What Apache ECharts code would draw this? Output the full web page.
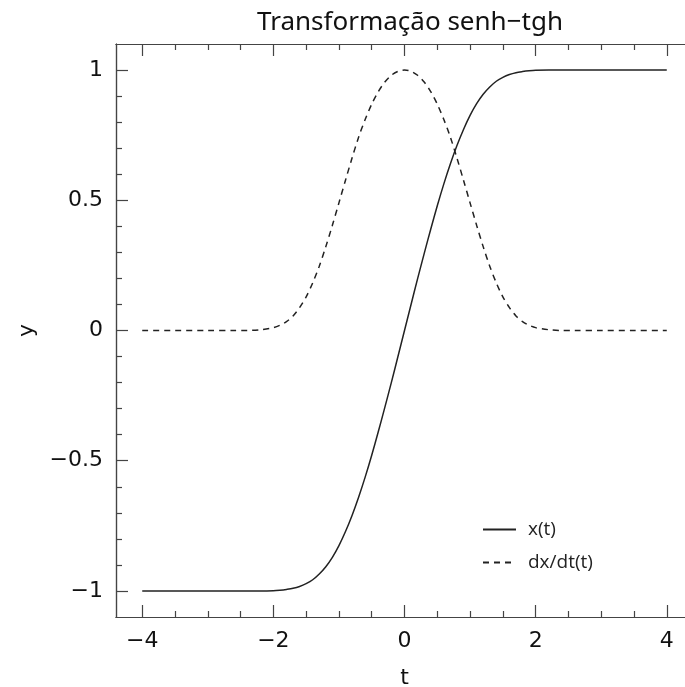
<!DOCTYPE html>
<html>
<head>
<meta charset="utf-8">
<script src="https://cdn.jsdelivr.net/npm/echarts@6/dist/echarts.min.js"></script>
<style>
  html, body { margin: 0; padding: 0; background: #fff; }
  #chart { width: 685px; height: 687px; }
</style>
</head>
<body>
<div id="chart"></div>
<script>
// Parameter t and the two curves of the sinh-tanh substitution
const tValues = [
  -4, -3.5, -3, -2.6, -2.4, -2.2,
  -2.0, -1.9, -1.8, -1.7, -1.6, -1.5, -1.4, -1.3, -1.2, -1.1,
  -1.0, -0.9, -0.8, -0.7, -0.6, -0.5, -0.4, -0.3, -0.2, -0.1,
  0,
  0.1, 0.2, 0.3, 0.4, 0.5, 0.6, 0.7, 0.8, 0.9, 1.0,
  1.1, 1.2, 1.3, 1.4, 1.5, 1.6, 1.7, 1.8, 1.9, 2.0,
  2.2, 2.4, 2.6, 3, 3.5, 4
];
const xValues = [
  -1, -1, -1, -1, -1, -1,
  -0.999, -0.997, -0.994, -0.990, -0.983, -0.972, -0.957, -0.935, -0.907, -0.871,
  -0.826, -0.772, -0.710, -0.640, -0.563, -0.479, -0.389, -0.295, -0.199, -0.100,
  0,
  0.100, 0.199, 0.295, 0.389, 0.479, 0.563, 0.640, 0.710, 0.772, 0.826,
  0.871, 0.907, 0.935, 0.957, 0.972, 0.983, 0.990, 0.994, 0.997, 0.999,
  1, 1, 1, 1, 1, 1
];
const dxValues = [
  0, 0, 0, 0, 0, 0.003,
  0.011, 0.020, 0.034, 0.056, 0.088, 0.129, 0.183, 0.247, 0.322, 0.404,
  0.490, 0.577, 0.662, 0.742, 0.810, 0.869, 0.917, 0.954, 0.980, 0.995,
  1,
  0.995, 0.980, 0.954, 0.917, 0.869, 0.810, 0.742, 0.662, 0.577, 0.490,
  0.404, 0.322, 0.247, 0.183, 0.129, 0.088, 0.056, 0.034, 0.020, 0.011,
  0.003, 0, 0, 0, 0, 0
];
const seriesNames = ['x(t)', 'dx/dt(t)'];
const titleText = 'Transformação senh\u2212tgh';

// Axis ranges and tick positions
const tRange = [-4.4, 4.4];
const yRange = [-1.1, 1.1];
const tMajor = [-4, -2, 0, 2, 4];
const tMinor = [-3.5, -3, -2.5, -1.5, -1, -0.5, 0.5, 1, 1.5, 2.5, 3, 3.5];
const yMajor = [-1, -0.5, 0, 0.5, 1];
const yMinor = [-0.9, -0.8, -0.7, -0.6, -0.4, -0.3, -0.2, -0.1,
                0.1, 0.2, 0.3, 0.4, 0.6, 0.7, 0.8, 0.9];

const ink = '#222';
const spine = '#444';
const tickFont = { fontFamily: 'DejaVu Sans', fontSize: 22, color: '#111' };
const fmt = v => (v < 0 ? '\u2212' + Math.abs(v) : String(v));

function tickAxis(pos, min, max, values, len, extra) {
  return Object.assign({
    type: 'value', position: pos, min: min, max: max,
    axisLine: { show: true, onZero: false, lineStyle: { color: spine, width: 1.2 } },
    axisTick: { show: true, inside: true, length: len, customValues: values,
                lineStyle: { color: spine, width: 1.2 } },
    axisLabel: { show: false },
    splitLine: { show: false }
  }, extra || {});
}

const chart = echarts.init(document.getElementById('chart'), null, { renderer: 'canvas' });

chart.setOption({
  backgroundColor: '#fff',
  animation: false,
  title: {
    text: titleText,
    left: 405, top: 5, textAlign: 'center',
    textStyle: { fontFamily: 'Noto Sans', fontSize: 26, fontWeight: 'normal', color: '#111' }
  },
  // the plot area runs slightly past the right edge of the canvas
  grid: { left: 116, top: 44, width: 577, height: 573, containLabel: false, outerBoundsMode: 'none' },
  legend: {
    orient: 'vertical',
    left: 477, top: 515,
    itemWidth: 33, itemHeight: 14, itemGap: 14,
    itemStyle: { opacity: 0 },
    textStyle: { fontFamily: 'Open Sans', fontSize: 19, color: '#222', padding: [0, 0, 0, 7] },
    data: [
      { name: seriesNames[0] },
      { name: seriesNames[1] }
    ]
  },
  xAxis: [
    tickAxis('bottom', tRange[0], tRange[1], tMajor, 12, {
      name: 't', nameLocation: 'middle', nameGap: 50,
      nameTextStyle: { fontFamily: 'DejaVu Sans', fontSize: 22, color: '#111' },
      axisLabel: Object.assign({ show: true, margin: 13, customValues: tMajor, formatter: fmt }, tickFont)
    }),
    tickAxis('bottom', tRange[0], tRange[1], tMinor, 6),
    tickAxis('top', tRange[0], tRange[1], tMajor, 12),
    tickAxis('top', tRange[0], tRange[1], tMinor, 6)
  ],
  yAxis: [
    tickAxis('left', yRange[0], yRange[1], yMajor, 12, {
      name: 'y', nameLocation: 'middle', nameGap: 78, nameRotate: 90,
      nameTextStyle: { fontFamily: 'DejaVu Sans', fontSize: 22, color: '#111' },
      axisLabel: Object.assign({ show: true, margin: 13, customValues: yMajor, formatter: fmt }, tickFont)
    }),
    tickAxis('left', yRange[0], yRange[1], yMinor, 6)
  ],
  series: [
    {
      name: seriesNames[0], type: 'line', xAxisIndex: 0, yAxisIndex: 0,
      data: tValues.map((t, i) => [t, xValues[i]]),
      showSymbol: false, symbol: 'none', smooth: 0.3,
      lineStyle: { color: ink, width: 1.5, type: 'solid' },
      itemStyle: { color: ink }
    },
    {
      name: seriesNames[1], type: 'line', xAxisIndex: 0, yAxisIndex: 0,
      data: tValues.map((t, i) => [t, dxValues[i]]),
      showSymbol: false, symbol: 'none', smooth: 0.3,
      lineStyle: { color: ink, width: 1.5, type: [6, 5] },
      itemStyle: { color: ink }
    }
  ]
});
</script>
</body>
</html>
